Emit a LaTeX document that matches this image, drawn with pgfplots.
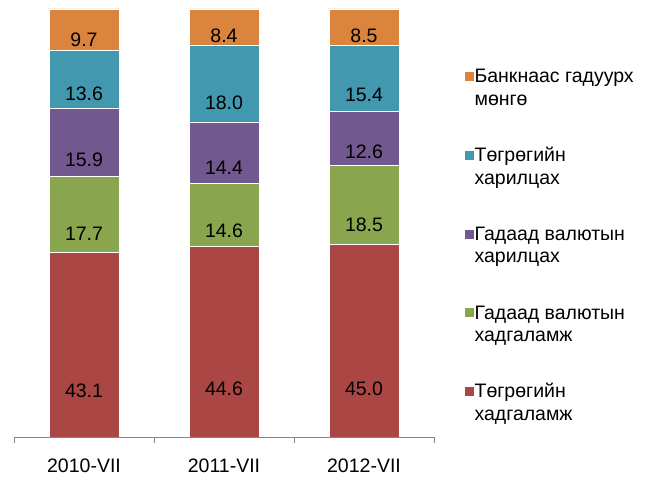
\documentclass[border=0pt]{standalone}
\usepackage{pgfplots}
\pgfplotsset{compat=1.18}
\usepackage{pgfplotstable}
\usepackage{fontspec}
\setmainfont{Liberation Sans}
\definecolor{cred}{HTML}{AA4643}
\definecolor{cgreen}{HTML}{89A54E}
\definecolor{cpurple}{HTML}{71588F}
\definecolor{cteal}{HTML}{4198AF}
\definecolor{corange}{HTML}{DB843D}
\definecolor{caxis}{HTML}{868686}
\newcommand\lbl{\fontsize{19.5bp}{22.5bp}\selectfont}
\pgfplotstableread{
x a b c d e
0 43.1 17.7 15.9 13.6 9.7
1 44.6 14.6 14.4 18.0 8.4
2 45.0 18.5 12.6 15.4 8.5
}\data
\begin{document}
\begin{tikzpicture}
\useasboundingbox (-14bp,-42bp) rectangle (640bp,437bp);
\begin{axis}[
  at={(0,0)}, anchor=south west,
  scale only axis, width=420bp, height=428bp,
  ybar stacked, bar width=70bp,
  xmin=-0.5, xmax=2.5, ymin=0, ymax=100,
  axis x line=bottom, axis y line=none,
  x axis line style={-, draw=caxis, line width=0.8bp},
  xtick={0,1,2}, xticklabels={2010-VII,2011-VII,2012-VII},
  major x tick style={draw=none},
  minor xtick={-0.5,0.5,1.5,2.5},
  minor x tick style={draw=caxis, line width=0.8bp},
  minor tick length=6bp, tick align=outside,
  xticklabel style={anchor=base, yshift=-31.5bp, font=\lbl, inner sep=0pt},
  point meta=explicit symbolic,
  nodes near coords={\pgfplotspointmeta},
  every node near coord/.append style={anchor=center, yshift=-\pgfplotspointmeta*1.07bp, font=\lbl, text=black},
  reverse legend,
  legend cell align=left,
  legend style={draw=none, fill=none, font=\lbl, inner sep=0pt, outer sep=0pt,
    at={(1.0714,0.864)}, anchor=north west, row sep=39bp, column sep=0pt,
    cells={anchor=base west, align=left},
    nodes={inner sep=0pt, outer sep=0pt, xshift=14bp}},
  legend image code/.code={\fill[#1] (0bp,23.9bp) rectangle (10bp,33.9bp);},
]
\addplot[fill=cred, draw=white, line width=0.6bp] table[x=x,y=a,meta=a]{\data};
\addlegendentry{\strut Төгрөгийн\\хадгаламж\strut}
\addplot[fill=cgreen, draw=white, line width=0.6bp] table[x=x,y=b,meta=b]{\data};
\addlegendentry{\strut Гадаад валютын\\хадгаламж\strut}
\addplot[fill=cpurple, draw=white, line width=0.6bp] table[x=x,y=c,meta=c]{\data};
\addlegendentry{\strut Гадаад валютын\\харилцах\strut}
\addplot[fill=cteal, draw=white, line width=0.6bp] table[x=x,y=d,meta=d]{\data};
\addlegendentry{\strut Төгрөгийн\\харилцах\strut}
\addplot[fill=corange, draw=white, line width=0.6bp] table[x=x,y=e,meta=e]{\data};
\addlegendentry{\strut Банкнаас гадуурх\\мөнгө\strut}
\end{axis}
\end{tikzpicture}
\end{document}
